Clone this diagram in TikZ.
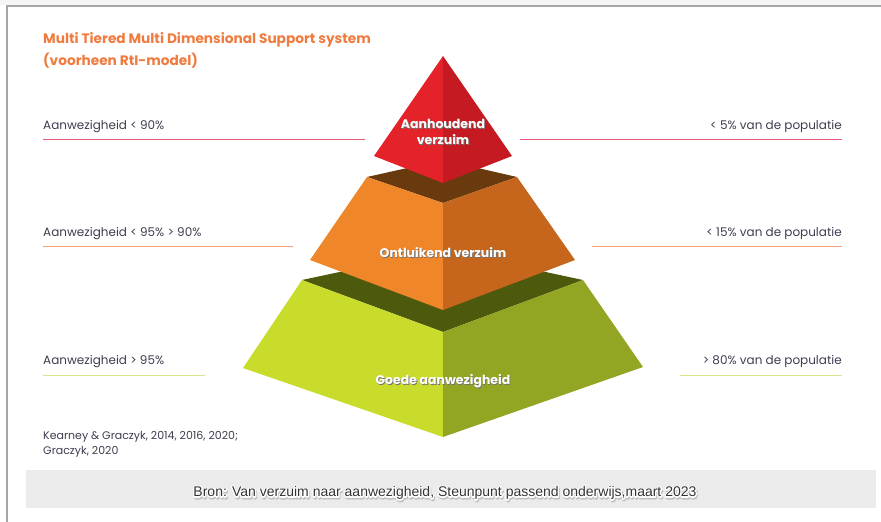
\documentclass[tikz,border=0pt]{standalone}
\usepackage{fontspec}
\setmainfont{Poppins}
\newfontfamily\bronfont{Liberation Sans}
\usetikzlibrary{positioning}
\definecolor{titleorange}{HTML}{F07B3F}
\definecolor{labelgray}{HTML}{3E3D50}
\definecolor{redleft}{HTML}{E42229}
\definecolor{redright}{HTML}{C51A21}
\definecolor{orangeleft}{HTML}{F0862A}
\definecolor{orangeright}{HTML}{C6661D}
\definecolor{orangetop}{HTML}{6A3A0F}
\definecolor{greenleft}{HTML}{C9DC2B}
\definecolor{greenright}{HTML}{93A523}
\definecolor{greentop}{HTML}{4D590D}
\definecolor{linered}{HTML}{E8587A}
\definecolor{lineorange}{HTML}{F5A275}
\definecolor{linegreen}{HTML}{D5E58C}
\definecolor{bandgray}{HTML}{EBEBEB}
% outlined text (stroke round the glyphs)
\newcommand{\outlinetext}[2]{\special{pdf:literal 2 Tr #1 w 1 j}#2\special{pdf:literal 0 Tr}}
\tikzset{
  leftlabel/.style={anchor=base west, text=labelgray, font=\fontsize{12}{14}\selectfont, inner sep=0pt},
  rightlabel/.style={anchor=base east, text=labelgray, font=\fontsize{12}{14}\selectfont, inner sep=0pt},
  tierlabel/.style={text=white, font=\fontsize{12.5}{16}\selectfont\bfseries, align=center, inner sep=0pt},
  tiershadow/.style={text=black!55, font=\fontsize{12.5}{16}\selectfont\bfseries, align=center, inner sep=0pt},
  bronstyle/.style={font=\bronfont\fontsize{14}{16}\selectfont, inner sep=0pt},
  rule/.style={line width=1pt}
}

\begin{document}
\begin{tikzpicture}[x=1pt,y=-1pt]
\useasboundingbox (0,0) rectangle (881,522);
% frame
\fill [black!4] (0,0) rectangle (881,5);
\draw [black!35, line width=1.2pt] (7,522) -- (7,6) -- (881,6);
\fill [bandgray] (26,470) rectangle (876,508);

% title
\node [anchor=base west, inner sep=0pt, text=titleorange, font=\fontsize{13.7}{16}\selectfont\bfseries, align=left] (title) at (43,65) {Multi Tiered Multi Dimensional Support system\\[4pt](voorheen RtI-model)};

% pyramid corners
\coordinate (rtop) at (443,56);
\coordinate (rl) at (374,156);
\coordinate (rr) at (512,156);
\coordinate (rf) at (443,183);
\coordinate (otl) at (367,177);
\coordinate (otr) at (517,177);
\coordinate (otb) at (443,160);
\coordinate (otf) at (443,203);
\coordinate (obl) at (310,260);
\coordinate (obr) at (575,260);
\coordinate (obf) at (443,310);
\coordinate (gtl) at (302,280);
\coordinate (gtr) at (583,280);
\coordinate (gtb) at (443,250);
\coordinate (gtf) at (443,332);
\coordinate (gbl) at (243,368);
\coordinate (gbr) at (643,367);
\coordinate (gbf) at (443,437);

% green tier
\fill [greentop] (gtl) -- (gtb) -- (gtr) -- (gtf) -- cycle;
\fill [greenleft] (gtl) -- (gtf) -- (gbf) -- (gbl) -- cycle;
\fill [greenright] (gtf) -- (gtr) -- (gbr) -- (gbf) -- cycle;
% orange tier
\fill [orangetop] (otl) -- (otb) -- (otr) -- (otf) -- cycle;
\fill [orangeleft] (otl) -- (otf) -- (obf) -- (obl) -- cycle;
\fill [orangeright] (otf) -- (otr) -- (obr) -- (obf) -- cycle;
% red top
\fill [redleft] (rtop) -- (rf) -- (rl) -- cycle;
\fill [redright] (rtop) -- (rr) -- (rf) -- cycle;

% tier texts
\node [tiershadow] at (443.8,132.8) {Aanhoudend\\verzuim};
\node [tierlabel] (red) at (443,132) {Aanhoudend\\verzuim};
\node [tiershadow] at (443.8,253.8) {Ontluikend verzuim};
\node [tierlabel] (orange) at (443,253) {Ontluikend verzuim};
\node [tiershadow] at (443.8,381.8) {Goede aanwezigheid};
\node [tierlabel] (green) at (443,381) {Goede aanwezigheid};

% side labels
\node [leftlabel] (l1) at (43,129.5) {Aanwezigheid < 90\%};
\node [rightlabel] (r1) at (842,129.5) {< 5\% van de populatie};
\node [leftlabel] (l2) at (43,236.5) {Aanwezigheid < 95\% > 90\%};
\node [rightlabel] (r2) at (842,236.5) {< 15\% van de populatie};
\node [leftlabel] (l3) at (43,364.5) {Aanwezigheid > 95\%};
\node [rightlabel] (r3) at (842,364.5) {> 80\% van de populatie};

\coordinate (l1a) at (43,139);  \coordinate (l1b) at (365,139);
\coordinate (r1a) at (520,139); \coordinate (r1b) at (842,139);
\coordinate (l2a) at (43,246);  \coordinate (l2b) at (293,246);
\coordinate (r2a) at (592,246); \coordinate (r2b) at (842,246);
\coordinate (l3a) at (43,375);  \coordinate (l3b) at (205,375);
\coordinate (r3a) at (680,375); \coordinate (r3b) at (842,375);
\draw [rule, linered] (l1a) -- (l1b);
\draw [rule, linered] (r1a) -- (r1b);
\draw [rule, lineorange] (l2a) -- (l2b);
\draw [rule, lineorange] (r2a) -- (r2b);
\draw [rule, linegreen] (l3a) -- (l3b);
\draw [rule, linegreen] (r3a) -- (r3b);

% reference
\node [anchor=base west, inner sep=0pt, text=labelgray, font=\fontsize{11}{15}\selectfont, align=left] (refs) at (43,454) {Kearney \& Graczyk, 2014, 2016, 2020;\\Graczyk, 2020};

% source line: soft shadow, white outline, text
\node [bronstyle, text=black!25] at (445.8,494.6) {\outlinetext{2.6}{Bron: Van verzuim naar aanwezigheid, Steunpunt passend onderwijs,maart 2023}};
\node [bronstyle, text=white] at (445,493) {\outlinetext{2.6}{Bron: Van verzuim naar aanwezigheid, Steunpunt passend onderwijs,maart 2023}};
\node [bronstyle, text=black!80] (bron) at (445,493) {Bron: Van verzuim naar aanwezigheid, Steunpunt passend onderwijs,maart 2023};
\end{tikzpicture}
\end{document}
